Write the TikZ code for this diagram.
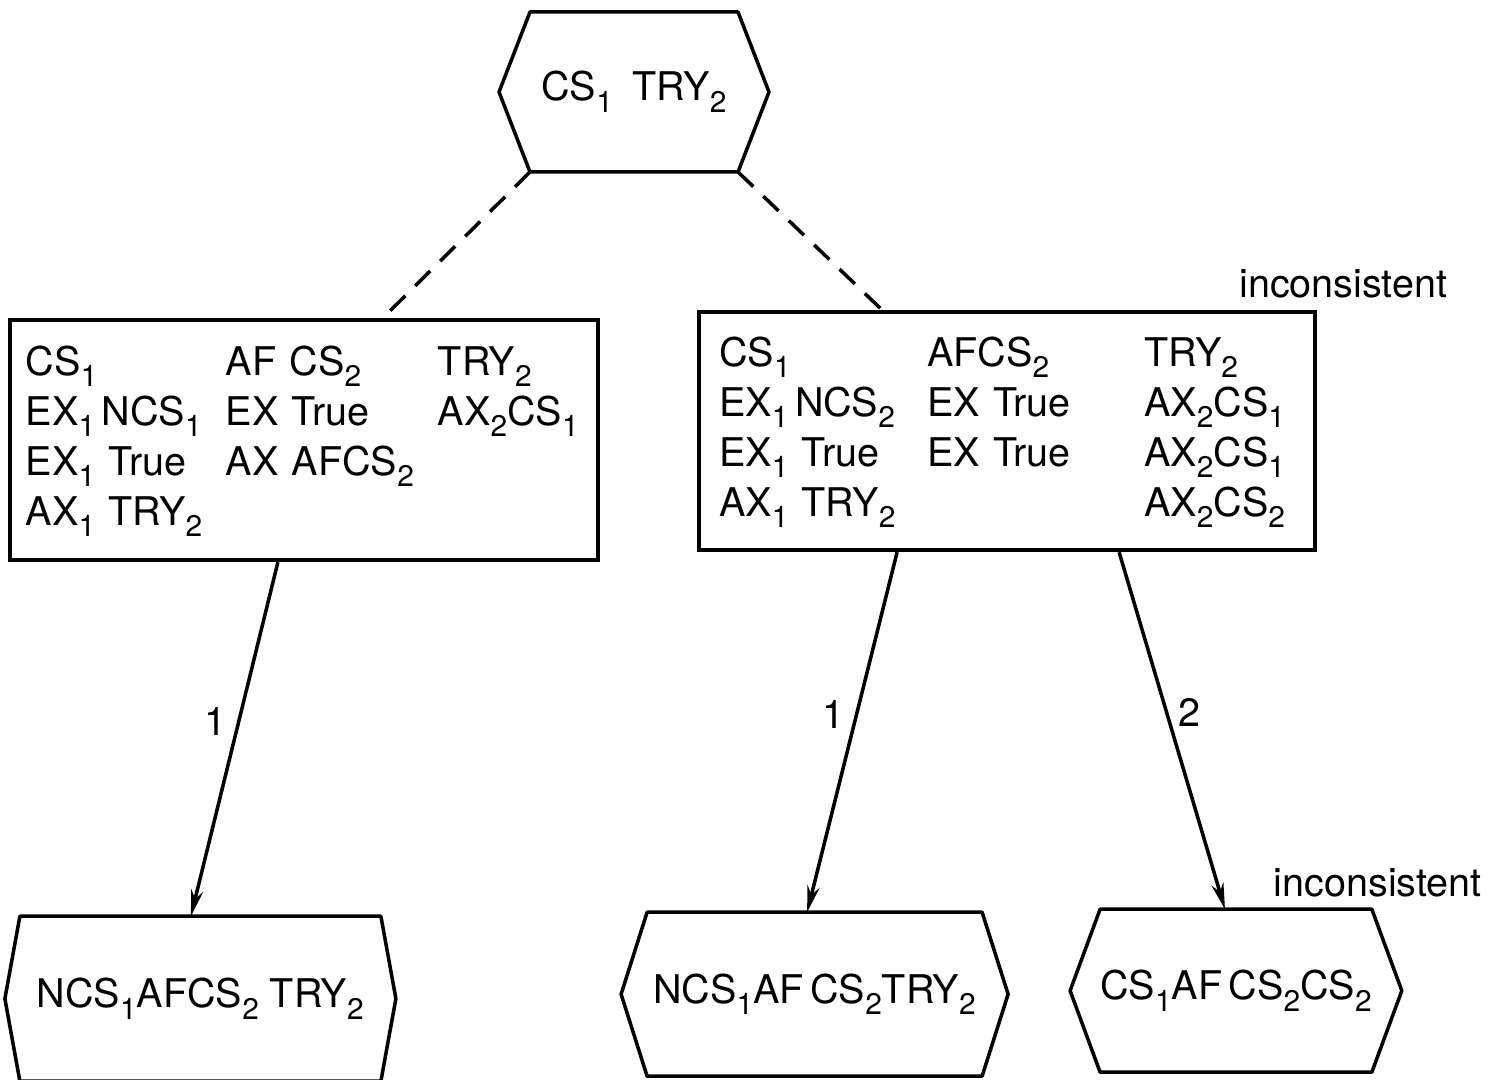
\documentclass[tikz,border=0pt]{standalone}
\usepackage{fontspec}
\setmainfont{TeX Gyre Heros}
\usepackage{tikz}
\usetikzlibrary{
    arrows.meta,
    positioning
}
\newcommand{\ix}[1]{\raisebox{-0.3em}{\fontsize{17}{17}\selectfont #1}}
\newcommand{\letter}{\fontsize{22.5}{28.45}\selectfont}
\tikzstyle{hexstate} = [
    rectangle,
    inner sep=0pt,
    outer sep=0pt,
    minimum height=3.28cm,
    font=\letter
]
\tikzstyle{hexline} = [
    line width=2pt,
    line join=round
]
\tikzstyle{stateset} = [
    rectangle,
    draw,
    line width=2.4pt,
    inner xsep=0.32cm,
    inner ysep=0pt,
    align=left,
    font=\letter
]
\tikzstyle{note} = [
    inner sep=0pt,
    font=\letter
]
\tikzstyle{move} = [
    -{Stealth[length=15pt, width=7pt]},
    line width=2pt
]
\tikzstyle{guess} = [
    line width=2pt,
    dash pattern=on 12pt off 8pt
]

\begin{document}
\begin{tikzpicture}[node distance=1cm]
        \useasboundingbox (0,0) rectangle (29.92,21.6);

        % Root state
        \node[hexstate, minimum width=4.16cm, minimum height=3.2cm] (root) at (12.68,19.76) {CS\ix1\enspace TRY\ix2};

        % Left set
        \node[stateset, text width=11.12cm, minimum height=4.8cm, below left=2.92cm and -1.4cm of root] (lset) {%
            \begin{tabular}{@{}p{4cm}@{}p{4.24cm}@{}l@{}}
            CS\ix1 & AF CS\ix2 & TRY\ix2\\
            EX\ix1\,NCS\ix1 & EX True & AX\ix2CS\ix1\\
            EX\ix1 True & AX AFCS\ix2 & \\
            AX\ix1 TRY\ix2 & & \\
            \end{tabular}};
        \draw[guess] (root.south west) -- ([xshift=1.58cm]lset.north);

        % Right set
        \node[stateset, inner xsep=0.4cm, text width=11.52cm, minimum height=4.76cm, below right=2.76cm and -0.82cm of root] (rset) {%
            \begin{tabular}{@{}p{4.16cm}@{}p{4.34cm}@{}l@{}}
            CS\ix1 & AFCS\ix2 & TRY\ix2\\
            EX\ix1\,NCS\ix2 & EX True & AX\ix2CS\ix1\\
            EX\ix1 True & EX True & AX\ix2CS\ix1\\
            AX\ix1 TRY\ix2 & & AX\ix2CS\ix2\\
            \end{tabular}};
        \draw[guess] (root.south east) -- ([xshift=-2.5cm]rset.north);
        \node[note, above=0.24cm of rset.north east, xshift=0.52cm] (incona) {inconsistent};

        % Successor states
        \node[hexstate, minimum width=7.22cm, minimum height=3.3cm, below=7.08cm of lset, xshift=-2.07cm] (leafa) {NCS\ix1AFCS\ix2 TRY\ix2};
        \node[hexstate, minimum width=6.7cm, below=7.2cm of rset, xshift=-3.85cm] (leafb) {NCS\ix1AF\,CS\ix2TRY\ix2};
        \node[hexstate, minimum width=5.24cm, minimum height=3.26cm, right=2.36cm of leafb, yshift=0.07cm] (leafc) {CS\ix1AF\,CS\ix2CS\ix2};
        \node[note, above=0.24cm of leafc.north east, xshift=0.12cm] (inconb) {inconsistent};

        \foreach \n/\t in {root/0.62cm, leafa/0.3cm, leafb/0.52cm, leafc/0.6cm}
            \draw[hexline] (\n.north west) -- (\n.north east) -- ([xshift=\t]\n.east)
                -- (\n.south east) -- (\n.south west) -- ([xshift=-\t]\n.west) -- cycle;

        % Moves
        \draw[move] ([xshift=-0.52cm]lset.south) -- node[note, left=0.2cm, pos=0.45] {1} ([xshift=-0.19cm]leafa.north);
        \draw[move] ([xshift=-2.2cm]rset.south) -- node[note, left=0.2cm, pos=0.45] {1} ([xshift=-0.15cm]leafb.north);
        \draw[move] ([xshift=2.24cm]rset.south) -- node[note, right=0.2cm, pos=0.45] {2} ([xshift=-0.22cm]leafc.north);
    \end{tikzpicture}
\end{document}
